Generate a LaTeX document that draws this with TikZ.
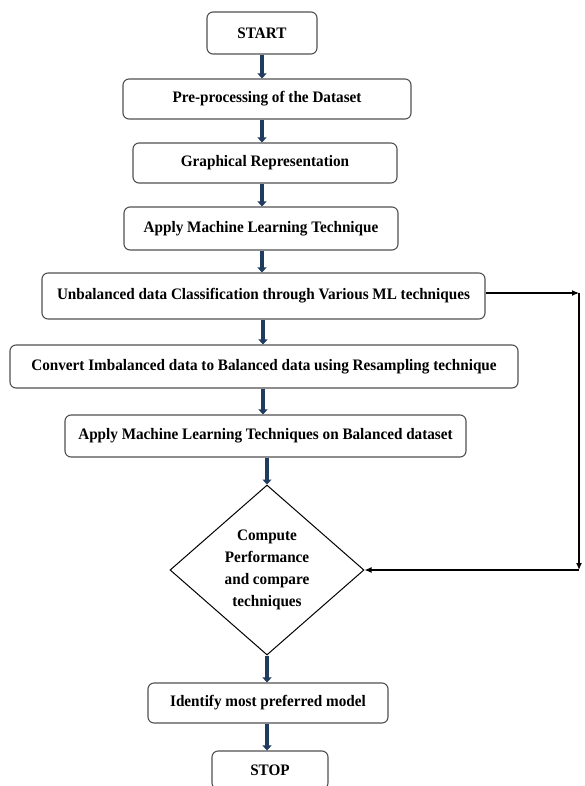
\documentclass[tikz,border=0pt]{standalone}
\usepackage{fontspec}
\setmainfont{Liberation Serif}[FakeStretch=0.95]
\usetikzlibrary{shapes.geometric,arrows.meta}
\definecolor{navy}{HTML}{1F3B5E}
\definecolor{cadre}{HTML}{505050}

\begin{document}
\begin{tikzpicture}[x=1pt,y=-1pt,
  box/.style={draw=cadre,line width=1.1pt,rounded corners=6pt,inner sep=0pt,
    font=\fontsize{16}{18}\selectfont\bfseries},
  flow/.style={navy,line width=3.6pt,-{Triangle[width=9pt,length=5pt]}},
  back/.style={black,line width=1.2pt,-{Latex[length=7pt,width=6pt]}}]
\useasboundingbox (0,0) rectangle (584,786);

% boxes
\node[box,minimum width=110,minimum height=42] (start) at (262,33) {START};
\node[box,minimum width=288,minimum height=40] (prep) at (267,99) {Pre-processing of the Dataset};
\node[box,minimum width=264,minimum height=40] (graph) at (265,163) {Graphical Representation};
\node[box,minimum width=274,minimum height=43] (apply) at (261,228.5) {Apply Machine Learning Technique};
\node[box,minimum width=443,minimum height=46] (unbal) at (263.5,296) {Unbalanced data Classification through Various ML techniques};
\node[box,minimum width=508,minimum height=43] (conv) at (264,366.5) {Convert Imbalanced data to Balanced data using Resampling technique};
\node[box,minimum width=401,minimum height=42] (applyb) at (265.5,436) {Apply Machine Learning Techniques on Balanced dataset};

% decision
\node[draw=black,line width=1pt,diamond,aspect=1.14,minimum width=194,minimum height=170,
  inner sep=0pt,align=center,font=\fontsize{16}{22}\selectfont\bfseries] (comp) at (267,570)
  {Compute\\Performance\\and compare\\techniques};

\node[box,minimum width=240,minimum height=40] (ident) at (268,703) {Identify most preferred model};
\node[box,minimum width=116,minimum height=38] (stop) at (270,770) {STOP};

% main flow
\draw[flow] (start.south) -- (start.south |- prep.north);
\draw[flow] (start.south |- prep.south) -- (start.south |- graph.north);
\draw[flow] (start.south |- graph.south) -- (start.south |- apply.north);
\draw[flow] (start.south |- apply.south) -- (start.south |- unbal.north);
\draw[flow] (263,0 |- unbal.south) -- (263,0 |- conv.north);
\draw[flow] (263,0 |- conv.south) -- (263,0 |- applyb.north);
\draw[flow] (comp.north |- applyb.south) -- (comp.north);
\draw[flow] (comp.south) -- (comp.south |- ident.north);
\draw[flow] (comp.south |- ident.south) -- (comp.south |- stop.north);

% loop to the decision
\coordinate (c1) at (579,293);
\coordinate (c2) at (579,570);
\draw[back] ([yshift=3]unbal.east) -- (c1);
\draw[back] (c1) -- (c2);
\draw[back] (c2) -- (comp.east);
\end{tikzpicture}
\end{document}
